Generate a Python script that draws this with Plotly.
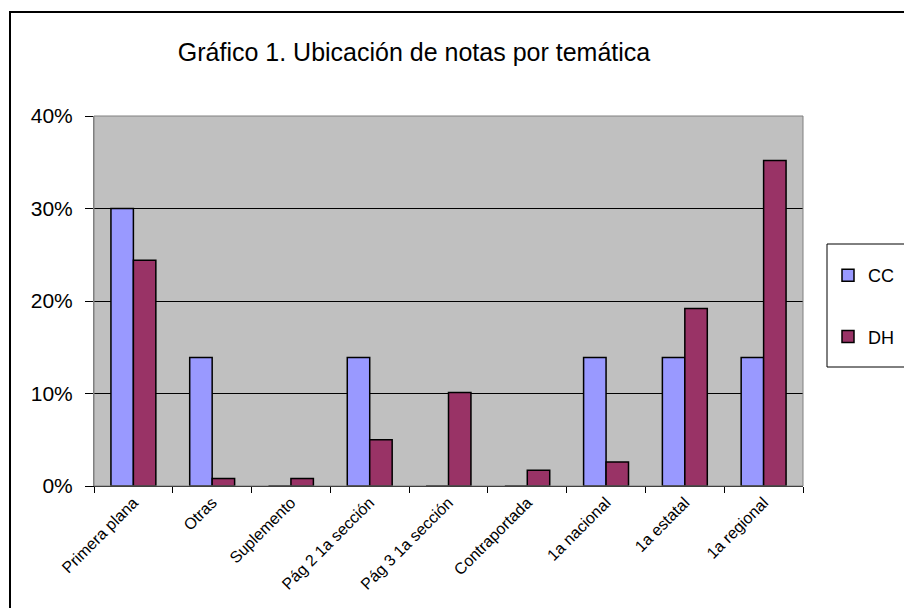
import plotly.graph_objects as go

categories = ["Primera plana", "Otras", "Suplemento", "Pág 2 1a sección",
              "Pág 3 1a sección", "Contraportada", "1a nacional", "1a estatal", "1a regional"]
cc_values = [30.0, 13.9, 0.0, 13.9, 0.0, 0.0, 13.9, 13.9, 13.9]
dh_values = [24.4, 0.8, 0.8, 5.0, 10.1, 1.7, 2.6, 19.2, 35.2]
y_ticks = [0, 10, 20, 30, 40]
y_tick_labels = ["0%", "10%", "20%", "30%", "40%"]

W, H = 904, 608
L, R, T, B = 94, 803, 116, 486  # plot area in px

def px_x(px):
    return (px - L) / (R - L)

def px_y(py):
    return (B - py) / (B - T)

arial = "Liberation Sans, Arial, sans-serif"

fig = go.Figure()
fig.add_trace(go.Bar(name="CC", x=categories, y=cc_values, legendgroup="cc",
                     marker=dict(color="#9999FF", line=dict(color="black", width=1.5))))
fig.add_trace(go.Bar(name="DH", x=categories, y=dh_values, legendgroup="dh",
                     marker=dict(color="#993366", line=dict(color="black", width=1.5))))

fig.update_layout(
    width=W, height=H,
    margin=dict(l=L, r=W - R, t=T, b=H - B, autoexpand=False),
    paper_bgcolor="white",
    plot_bgcolor="#C0C0C0",
    barmode="group",
    bargap=0.43,
    bargroupgap=0,
    title=dict(text="Gráfico 1. Ubicación de notas por temática",
               font=dict(family=arial, size=25, color="black"),
               x=414 / W, xanchor="center", xref="container",
               y=1 - 52 / H, yanchor="middle", yref="container"),
    showlegend=True,
    legend=dict(x=px_x(828), y=px_y(257), xanchor="left", yanchor="top",
                font=dict(family=arial, size=18, color="black"),
                bgcolor="rgba(0,0,0,0)", borderwidth=0,
                tracegroupgap=35, traceorder="grouped"),
    font=dict(family=arial, color="black"),
)

fig.update_xaxes(
    type="category",
    tickangle=-45,
    tickfont=dict(family=arial, size=16, color="black"),
    ticks="outside", tickson="boundaries", ticklen=6, tickcolor="black",
    showline=True, linecolor="black", linewidth=1,
    showgrid=False, automargin=False,
)
fig.update_yaxes(
    range=[0, 40],
    tickvals=y_ticks, ticktext=y_tick_labels,
    tickfont=dict(family=arial, size=21, color="black"),
    ticks="outside", ticklen=8, tickcolor="black",
    ticklabelstandoff=8,
    showline=True, linecolor="#808080", linewidth=1,
    showgrid=True, gridcolor="black", gridwidth=1,
    zeroline=False, automargin=False,
)

shapes = [
    # plot frame
    dict(type="rect", xref="paper", yref="paper", x0=0, x1=1, y0=0, y1=1,
         line=dict(color="#808080", width=1), layer="above"),
    # outer chart border
    dict(type="rect", xref="paper", yref="paper",
         x0=px_x(10), x1=px_x(930), y0=px_y(640), y1=px_y(12),
         line=dict(color="black", width=2)),
    # legend box
    dict(type="rect", xref="paper", yref="paper",
         x0=px_x(827), x1=px_x(940), y0=px_y(367), y1=px_y(244),
         line=dict(color="black", width=1)),
]
fig.update_layout(shapes=shapes)

fig.write_html("out.html",
               config={"displayModeBar": False},
               post_script="document.body.style.margin='0';document.body.style.overflow='hidden';")
